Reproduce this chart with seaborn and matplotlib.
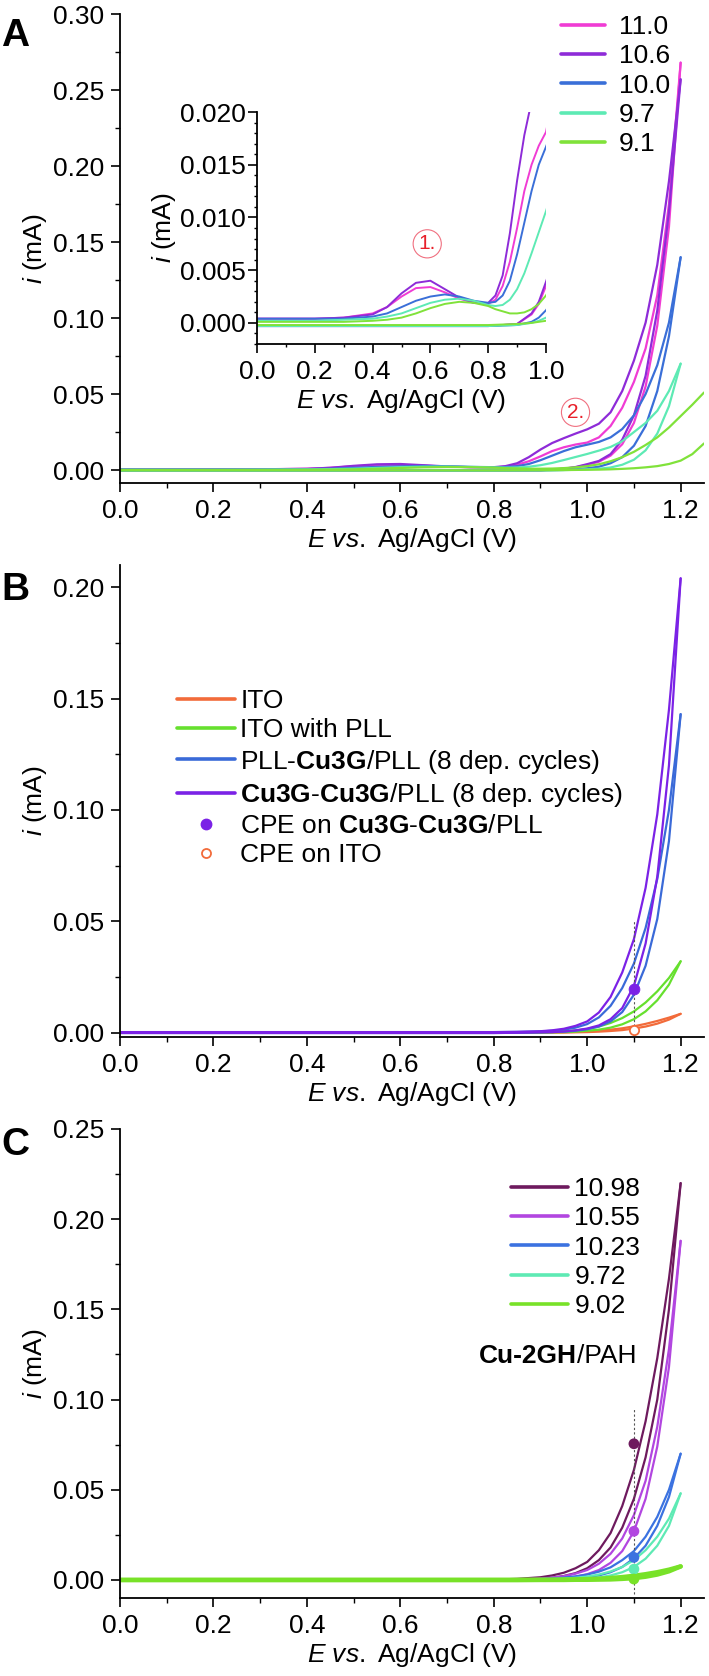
import numpy as np
import pandas as pd
import seaborn as sns
import matplotlib
matplotlib.use("Agg")
import matplotlib.pyplot as plt
from matplotlib.lines import Line2D
from matplotlib.ticker import MultipleLocator, FormatStrFormatter

# ---------------- panel A : pH series (forward / reverse scans) ----------------
E_A_fwd = [0.0, 0.1, 0.2, 0.3, 0.4, 0.45, 0.5, 0.55, 0.6, 0.65, 0.7, 0.75, 0.8, 0.825,
           0.85, 0.875, 0.9, 0.925, 0.95, 0.975, 1.0, 1.025, 1.05, 1.075, 1.1, 1.125,
           1.15, 1.175, 1.2]
E_A_rev = [1.2, 1.175, 1.15, 1.125, 1.1, 1.075, 1.05, 1.025, 1.0, 0.975, 0.95, 0.9,
           0.8, 0.6, 0.4, 0.2, 0.0]
E_A91_fwd = E_A_fwd + [1.225, 1.25]
E_A91_rev = [1.25, 1.225] + E_A_rev

i_A110_fwd = [0.0004, 0.0004, 0.0004, 0.0005, 0.0009, 0.0015, 0.0025, 0.0033, 0.0034,
              0.0029, 0.0023, 0.0019, 0.0018, 0.0022, 0.0035, 0.0058, 0.0090, 0.0125,
              0.0150, 0.0168, 0.0181, 0.0215, 0.029, 0.041, 0.058, 0.080, 0.115, 0.175,
              0.268]
i_A106_fwd = [0.0004, 0.0004, 0.0004, 0.0005, 0.0008, 0.0015, 0.0028, 0.0038, 0.0040,
              0.0032, 0.0024, 0.0019, 0.0019, 0.0026, 0.0045, 0.0085, 0.0135, 0.0178,
              0.0210, 0.0240, 0.0268, 0.0305, 0.038, 0.052, 0.072, 0.097, 0.135, 0.190,
              0.257]
i_A100_fwd = [0.0004, 0.0004, 0.0004, 0.0004, 0.0006, 0.0009, 0.0015, 0.0021, 0.0025,
              0.0027, 0.0025, 0.0021, 0.0019, 0.0020, 0.0026, 0.0040, 0.0065, 0.0095,
              0.0125, 0.0150, 0.0167, 0.0185, 0.0215, 0.027, 0.036, 0.050, 0.069, 0.097,
              0.140]
i_A97_fwd = [0.0002, 0.0002, 0.0002, 0.0003, 0.0004, 0.0006, 0.0009, 0.0014, 0.0019,
             0.0022, 0.0023, 0.0021, 0.0017, 0.0016, 0.0017, 0.0022, 0.0032, 0.0047,
             0.0066, 0.0086, 0.0106, 0.0128, 0.0152, 0.019, 0.025, 0.031, 0.039, 0.052,
             0.070]
i_A91_fwd = [0.0001, 0.0001, 0.0001, 0.0001, 0.0002, 0.0003, 0.0005, 0.0009, 0.0014,
             0.0018, 0.0020, 0.0019, 0.0016, 0.0013, 0.0011, 0.0009, 0.0009, 0.0010,
             0.0013, 0.0018, 0.0026, 0.0038, 0.0058, 0.0085, 0.0120, 0.0165, 0.0215,
             0.0280, 0.0355, 0.0430, 0.0510]

i_A110_rev = [0.268, 0.160, 0.095, 0.055, 0.031, 0.017, 0.0095, 0.0055, 0.0035, 0.0018,
              0.0008, -0.0001, -0.0003, -0.0003, -0.0003, -0.0003, -0.0003]
i_A106_rev = [0.257, 0.170, 0.105, 0.062, 0.036, 0.020, 0.0105, 0.006, 0.0039, 0.002,
              0.0009, -0.0001, -0.0003, -0.0003, -0.0003, -0.0003, -0.0003]
i_A100_rev = [0.140, 0.088, 0.052, 0.029, 0.016, 0.0085, 0.0045, 0.0022, 0.0012, 0.0005,
              0.0001, -0.0002, -0.0003, -0.0003, -0.0003, -0.0003, -0.0003]
i_A97_rev = [0.070, 0.042, 0.024, 0.013, 0.0068, 0.0035, 0.0017, 0.0009, 0.0005, 0.0002,
             0.0, -0.0002, -0.0003, -0.0003, -0.0003, -0.0003, -0.0003]
i_A91_rev = [0.0175, 0.0105, 0.0062, 0.0040, 0.0026, 0.0018, 0.0012, 0.0008, 0.0005,
             0.0003, 0.0002, 0.0001, 0.0, -0.0001, -0.0002, -0.0002, -0.0002, -0.0002,
             -0.0002]

labels_A = ["11.0", "10.6", "10.0", "9.7", "9.1"]
colors_A = ["#F03CD4", "#8E2BD8", "#3A6FD8", "#5DEAB4", "#80E23A"]

# ---------------- panel B : electrodes ----------------
E_B_fwd = [0.0, 0.2, 0.4, 0.6, 0.8, 0.85, 0.9, 0.925, 0.95, 0.975, 1.0, 1.025, 1.05,
           1.075, 1.1, 1.125, 1.15, 1.175, 1.2]
E_B_rev = E_B_fwd[::-1]

i_ITO_fwd = [0.0001, 0.0001, 0.0001, 0.0001, 0.0001, 0.0001, 0.0001, 0.0001, 0.0002,
             0.0003, 0.0005, 0.0008, 0.0013, 0.0019, 0.0028, 0.0039, 0.0052, 0.0067, 0.0084]
i_ITO_rev = [0.0084, 0.0058, 0.0040, 0.0027, 0.0018, 0.0011, 0.0007, 0.0004, 0.0002,
             0.0001, 0.0, 0.0, 0.0, -0.0001, -0.0001, -0.0001, -0.0001, -0.0001, -0.0001]
i_PLL_fwd = [0.0001, 0.0001, 0.0001, 0.0001, 0.0001, 0.0001, 0.0002, 0.0003, 0.0005,
             0.0009, 0.0016, 0.0027, 0.0043, 0.0065, 0.0095, 0.0135, 0.0185, 0.0245, 0.032]
i_PLL_rev = [0.032, 0.0215, 0.0145, 0.0095, 0.006, 0.0037, 0.0022, 0.0013, 0.0008,
             0.0004, 0.0002, 0.0001, 0.0, -0.0001, -0.0001, -0.0001, -0.0001, -0.0001,
             -0.0001]
i_PLLCu_fwd = [0.0002, 0.0002, 0.0002, 0.0002, 0.0002, 0.0003, 0.0005, 0.0008, 0.0013,
               0.0022, 0.0038, 0.0068, 0.012, 0.020, 0.031, 0.047, 0.069, 0.100, 0.143]
i_PLLCu_rev = [0.143, 0.086, 0.051, 0.030, 0.017, 0.0092, 0.005, 0.0027, 0.0015, 0.0008,
               0.0004, 0.0002, 0.0001, -0.0001, -0.0002, -0.0002, -0.0002, -0.0002, -0.0002]
i_CuCu_fwd = [0.0002, 0.0002, 0.0002, 0.0002, 0.0002, 0.0003, 0.0006, 0.001, 0.0017,
              0.003, 0.005, 0.009, 0.016, 0.027, 0.042, 0.065, 0.098, 0.145, 0.204]
i_CuCu_rev = [0.204, 0.120, 0.070, 0.040, 0.021, 0.011, 0.006, 0.0032, 0.0018, 0.001,
              0.0005, 0.0002, 0.0001, -0.0001, -0.0002, -0.0002, -0.0002, -0.0002, -0.0002]

labels_B = ["ITO", "ITO with PLL", r"PLL-$\mathbf{Cu3G}$/PLL (8 dep. cycles)",
            r"$\mathbf{Cu3G}$-$\mathbf{Cu3G}$/PLL (8 dep. cycles)"]
colors_B = ["#F26B3A", "#66E02E", "#3A6AD8", "#7B22E6"]
cpe_E = 1.1
cpe_B = [0.0197, 0.0012]
cpe_B_labels = [r"CPE on $\mathbf{Cu3G}$-$\mathbf{Cu3G}$/PLL", "CPE on ITO"]
cpe_line_B = [-0.001, 0.05]

# ---------------- panel C : Cu-2GH/PAH pH series ----------------
E_C_fwd = E_B_fwd
E_C_rev = E_B_rev
i_C1098_fwd = [0.0001, 0.0001, 0.0001, 0.0001, 0.0002, 0.0006, 0.0015, 0.0025, 0.004,
               0.0065, 0.010, 0.0165, 0.026, 0.041, 0.061, 0.088, 0.123, 0.167, 0.220]
i_C1098_rev = [0.220, 0.150, 0.100, 0.068, 0.045, 0.029, 0.018, 0.011, 0.0065, 0.0038,
               0.0022, 0.0012, 0.0006, 0.0002, 0.0, -0.0001, -0.0001, -0.0001, -0.0001]
i_C1055_fwd = [0.0001, 0.0001, 0.0001, 0.0001, 0.0001, 0.0003, 0.0008, 0.0013, 0.0021,
               0.0035, 0.0055, 0.009, 0.0145, 0.023, 0.036, 0.055, 0.085, 0.128, 0.188]
i_C1055_rev = [0.188, 0.118, 0.074, 0.045, 0.027, 0.016, 0.0095, 0.0055, 0.0032, 0.0018,
               0.001, 0.0005, 0.0002, 0.0, -0.0004, -0.0001, -0.0001, -0.0001, -0.0001]
i_C1023_fwd = [0.0001, 0.0001, 0.0001, 0.0001, 0.0001, 0.0002, 0.0005, 0.0008, 0.0013,
               0.002, 0.003, 0.0046, 0.007, 0.011, 0.016, 0.024, 0.035, 0.050, 0.070]
i_C1023_rev = [0.070, 0.046, 0.030, 0.019, 0.012, 0.0072, 0.0043, 0.0025, 0.0014, 0.0008,
               0.0004, 0.0002, 0.0001, 0.0, -0.0001, -0.0001, -0.0001, -0.0001, -0.0001]
i_C972_fwd = [0.0001, 0.0001, 0.0001, 0.0001, 0.0001, 0.0001, 0.0003, 0.0005, 0.0008,
              0.0012, 0.0019, 0.003, 0.0047, 0.0072, 0.011, 0.0165, 0.024, 0.034, 0.048]
i_C972_rev = [0.048, 0.030, 0.019, 0.0118, 0.0072, 0.0043, 0.0025, 0.0014, 0.0008, 0.0004,
              0.0002, 0.0001, 0.0, 0.0, -0.0001, -0.0001, -0.0001, -0.0001, -0.0001]
i_C902_fwd = [0.0, 0.0, 0.0, 0.0, 0.0, 0.0, 0.0001, 0.0001, 0.0002, 0.0003, 0.0005, 0.0007,
              0.0011, 0.0016, 0.0023, 0.0032, 0.0043, 0.0057, 0.0075]
i_C902_rev = [0.0075, 0.0048, 0.003, 0.0018, 0.0010, 0.0006, 0.0003, 0.0002, 0.0001,
              0.0001, 0.0, 0.0, 0.0, 0.0, 0.0, 0.0, 0.0, 0.0, 0.0]

labels_C = ["10.98", "10.55", "10.23", "9.72", "9.02"]
colors_C = ["#6E1A5E", "#B246E0", "#3B72E0", "#5EEAB4", "#78E228"]
cpe_C = [0.0755, 0.027, 0.0125, 0.006, 0.0005]
cpe_line_C = [-0.008, 0.095]

FS = 19
sns.set_style("ticks")
plt.rcParams["font.family"] = ["Liberation Sans", "DejaVu Sans"]
plt.rcParams["mathtext.fontset"] = "custom"
plt.rcParams["mathtext.rm"] = "Liberation Sans"
plt.rcParams["mathtext.it"] = "Liberation Sans:italic"
plt.rcParams["mathtext.bf"] = "Liberation Sans:bold"
for k in ["text.color", "axes.labelcolor", "xtick.color", "ytick.color", "axes.edgecolor"]:
    plt.rcParams[k] = "black"


def cv_frame(label, e_fwd, i_fwd, e_rev, i_rev):
    f = pd.DataFrame({"E": e_fwd, "i": i_fwd, "branch": "fwd"})
    r = pd.DataFrame({"E": e_rev, "i": i_rev, "branch": "rev"})
    d = pd.concat([f, r], ignore_index=True)
    d["series"] = label
    return d


def style_ax(ax, xmaj, xmin, ymaj, ymin, xfmt, yfmt):
    sns.despine(ax=ax)
    for s in ["left", "bottom"]:
        ax.spines[s].set_linewidth(1.3)
    ax.xaxis.set_major_locator(MultipleLocator(xmaj))
    ax.xaxis.set_minor_locator(MultipleLocator(xmin))
    ax.yaxis.set_major_locator(MultipleLocator(ymaj))
    ax.yaxis.set_minor_locator(MultipleLocator(ymin))
    ax.xaxis.set_major_formatter(FormatStrFormatter(xfmt))
    ax.yaxis.set_major_formatter(FormatStrFormatter(yfmt))
    ax.tick_params(which="major", direction="out", length=6.5, width=1.2, labelsize=FS, pad=5)
    ax.tick_params(which="minor", direction="out", length=3.5, width=1.0)
    ax.set_xlabel(r"$E$ $vs.$ Ag/AgCl (V)", fontsize=FS, labelpad=2)
    ax.set_ylabel(r"$i$ (mA)", fontsize=FS)
    ax.yaxis.set_label_coords(-0.122, 0.5)


dfA = pd.concat([
    cv_frame(labels_A[0], E_A_fwd, i_A110_fwd, E_A_rev, i_A110_rev),
    cv_frame(labels_A[1], E_A_fwd, i_A106_fwd, E_A_rev, i_A106_rev),
    cv_frame(labels_A[2], E_A_fwd, i_A100_fwd, E_A_rev, i_A100_rev),
    cv_frame(labels_A[3], E_A_fwd, i_A97_fwd, E_A_rev, i_A97_rev),
    cv_frame(labels_A[4], E_A91_fwd, i_A91_fwd, E_A91_rev, i_A91_rev),
], ignore_index=True)
dfB = pd.concat([
    cv_frame(labels_B[0], E_B_fwd, i_ITO_fwd, E_B_rev, i_ITO_rev),
    cv_frame(labels_B[1], E_B_fwd, i_PLL_fwd, E_B_rev, i_PLL_rev),
    cv_frame(labels_B[2], E_B_fwd, i_PLLCu_fwd, E_B_rev, i_PLLCu_rev),
    cv_frame(labels_B[3], E_B_fwd, i_CuCu_fwd, E_B_rev, i_CuCu_rev),
], ignore_index=True)
dfC = pd.concat([
    cv_frame(labels_C[0], E_C_fwd, i_C1098_fwd, E_C_rev, i_C1098_rev),
    cv_frame(labels_C[1], E_C_fwd, i_C1055_fwd, E_C_rev, i_C1055_rev),
    cv_frame(labels_C[2], E_C_fwd, i_C1023_fwd, E_C_rev, i_C1023_rev),
    cv_frame(labels_C[3], E_C_fwd, i_C972_fwd, E_C_rev, i_C972_rev),
    cv_frame(labels_C[4], E_C_fwd, i_C902_fwd, E_C_rev, i_C902_rev),
], ignore_index=True)

W, H = 709, 1676
fig = plt.figure(figsize=(W / 100, H / 100), dpi=100)


def box(x0, y0, x1, y1):
    # pixel box (top-left origin) -> figure fraction
    return [x0 / W, 1 - y1 / H, (x1 - x0) / W, (y1 - y0) / H]


axA = fig.add_axes(box(120, 14, 704, 483))
axB = fig.add_axes(box(120, 565, 704, 1037))
axC = fig.add_axes(box(120, 1129, 704, 1598))
axI = fig.add_axes(box(257, 112, 546, 344))

palA = dict(zip(labels_A, colors_A))
palB = dict(zip(labels_B, colors_B))
palC = dict(zip(labels_C, colors_C))

# ---- A ----
sns.lineplot(data=dfA, x="E", y="i", hue="series", units="branch", estimator=None,
             sort=False, palette=palA, hue_order=labels_A, legend=False, lw=1.6, ax=axA)
axA.set_xlim(0, 1.25)
axA.set_ylim(-0.0085, 0.30)
style_ax(axA, 0.2, 0.1, 0.05, 0.025, "%.1f", "%.2f")
axA.legend([Line2D([], [], color=c, lw=2.6) for c in colors_A], labels_A,
           loc="upper left", bbox_to_anchor=(561 / W, 1 - 15 / H), bbox_transform=fig.transFigure,
           frameon=False, fontsize=FS, handlelength=1.65, handletextpad=0.55, labelspacing=0.2,
           borderpad=0, borderaxespad=0)
axA.text(0.975, 0.038, "2.", color="#E8202A", fontsize=15, ha="center", va="center",
         bbox=dict(boxstyle="circle,pad=0.22", fc="none", ec="#F07080", lw=0.8))

# inset
sns.lineplot(data=dfA, x="E", y="i", hue="series", units="branch", estimator=None,
             sort=False, palette=palA, hue_order=labels_A, legend=False, lw=1.4, ax=axI)
axI.set_xlim(0, 1.0)
axI.set_ylim(-0.002, 0.020)
style_ax(axI, 0.2, 0.1, 0.005, 0.001, "%.1f", "%.3f")
axI.tick_params(which="minor", length=2.5)
axI.tick_params(axis="y", which="major", pad=1.5)
axI.yaxis.set_label_coords(-0.273, 0.5)
axI.text(0.589, 0.0075, "1.", color="#E8202A", fontsize=15, ha="center", va="center",
         bbox=dict(boxstyle="circle,pad=0.22", fc="none", ec="#F07080", lw=0.8))

# ---- B ----
sns.lineplot(data=dfB, x="E", y="i", hue="series", units="branch", estimator=None,
             sort=False, palette=palB, hue_order=labels_B, legend=False, lw=1.6, ax=axB)
axB.vlines(cpe_E, cpe_line_B[0], cpe_line_B[1], colors="#555555", linestyles=(0, (2, 2)), lw=0.8)
sns.scatterplot(x=[cpe_E], y=[cpe_B[0]], color=colors_B[3], s=60, edgecolor=colors_B[3], ax=axB, zorder=5)
sns.scatterplot(x=[cpe_E], y=[cpe_B[1]], facecolor="white", s=45, edgecolor=colors_B[0],
                linewidth=1.3, ax=axB, zorder=5)
axB.set_xlim(0, 1.25)
axB.set_ylim(-0.002, 0.21)
style_ax(axB, 0.2, 0.1, 0.05, 0.025, "%.1f", "%.2f")
hB = [Line2D([], [], color=c, lw=2.6) for c in colors_B]
hB += [Line2D([], [], ls="none", marker="o", ms=7.5, color=colors_B[3]),
       Line2D([], [], ls="none", marker="o", ms=6.5, mfc="white", mec=colors_B[0], mew=1.3)]
axB.legend(hB, labels_B + cpe_B_labels, loc="upper left", bbox_to_anchor=(177 / W, 1 - 689 / H),
           bbox_transform=fig.transFigure, frameon=False, fontsize=FS, handlelength=2.2,
           handletextpad=0.2, labelspacing=0.2, borderpad=0, borderaxespad=0)

# ---- C ----
sns.lineplot(data=dfC, x="E", y="i", hue="series", units="branch", estimator=None,
             sort=False, palette=palC, hue_order=labels_C, size="series",
             sizes=dict(zip(labels_C, [1.6, 1.6, 1.6, 1.6, 3.2])), legend=False, ax=axC)
axC.vlines(cpe_E, cpe_line_C[0], cpe_line_C[1], colors="#555555", linestyles=(0, (2, 2)), lw=0.8)
sns.scatterplot(x=[cpe_E] * len(cpe_C), y=cpe_C, hue=labels_C, palette=palC, s=60,
                linewidth=0, legend=False, ax=axC, zorder=5)
axC.set_xlim(0, 1.25)
axC.set_ylim(-0.01, 0.25)
style_ax(axC, 0.2, 0.1, 0.05, 0.025, "%.1f", "%.2f")
axC.legend([Line2D([], [], color=c, lw=2.6) for c in colors_C], labels_C,
           loc="upper left", bbox_to_anchor=(511 / W, 1 - 1177 / H), bbox_transform=fig.transFigure,
           frameon=False, fontsize=FS, handlelength=2.15, handletextpad=0.25, labelspacing=0.2,
           borderpad=0, borderaxespad=0)
fig.text(577 / W, 1 - 1356 / H, "Cu-2GH", fontsize=FS, fontweight="bold", ha="right", va="center")
fig.text(577 / W, 1 - 1356 / H, "/PAH", fontsize=FS, ha="left", va="center")

# panel letters
for letter, ytop in [("A", 46), ("B", 600), ("C", 1155)]:
    fig.text(1 / W, 1 - ytop / H, letter, fontsize=28, fontweight="bold", ha="left", va="baseline")

fig.savefig("out.png", dpi=100)
